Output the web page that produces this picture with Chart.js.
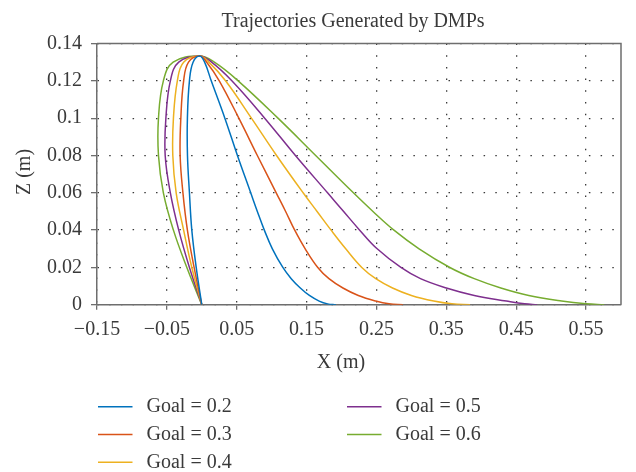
<!DOCTYPE html>
<html><head><meta charset="utf-8">
<script src="https://cdn.jsdelivr.net/npm/chart.js@4.4.1/dist/chart.umd.min.js"></script>
<style>html,body{margin:0;padding:0;background:#fff;}</style>
</head><body>
<canvas id="c" width="636" height="472"></canvas>
<script>
const chartTitle = 'Trajectories Generated by DMPs';
const xAxisTitle = 'X (m)';
const yAxisTitle = 'Z (m)';
const seriesLabels = ['Goal = 0.2', 'Goal = 0.3', 'Goal = 0.4', 'Goal = 0.5', 'Goal = 0.6'];
const seriesColors = ['#0072BD', '#D95319', '#EDB120', '#7E2F8E', '#77AC30'];

const xTickValues = [-0.15, -0.05, 0.05, 0.15, 0.25, 0.35, 0.45, 0.55];
const xTickLabels = ['\u22120.15', '\u22120.05', '0.05', '0.15', '0.25', '0.35', '0.45', '0.55'];
const yTickValues = [0, 0.02, 0.04, 0.06, 0.08, 0.10, 0.12, 0.14];
const yTickLabels = ['0', '0.02', '0.04', '0.06', '0.08', '0.1', '0.12', '0.14'];

// Z values of the sampled points (up the left side, over the top, down to the goal)
const pathZ = [0, 0.02, 0.04, 0.06, 0.08, 0.10, 0.12, 0.13, 0.1333, 0.13, 0.12, 0.10, 0.08, 0.06, 0.05, 0.04, 0.03, 0.02, 0.014, 0.009, 0.005, 0.002, 0.0005, 0];

// X values of each trajectory at those points
const goal02X = [0, -0.008, -0.0143, -0.0177, -0.0205, -0.0206, -0.0177, -0.0125, -0.003, 0.004, 0.0135, 0.033, 0.051, 0.070, 0.0795, 0.0895, 0.101, 0.116, 0.128, 0.141, 0.154, 0.168, 0.180, 0.192];
const goal03X = [0, -0.011, -0.0206, -0.027, -0.031, -0.030, -0.026, -0.019, -0.003, 0.007, 0.025, 0.053, 0.0795, 0.1065, 0.120, 0.133, 0.148, 0.166, 0.182, 0.202, 0.224, 0.249, 0.268, 0.288];
const goal04X = [0, -0.0143, -0.026, -0.0367, -0.0415, -0.0406, -0.035, -0.026, -0.003, 0.010, 0.034, 0.071, 0.107, 0.145, 0.165, 0.185, 0.206, 0.229, 0.249, 0.273, 0.300, 0.332, 0.358, 0.384];
const goal05X = [0, -0.0177, -0.033, -0.045, -0.0524, -0.0514, -0.045, -0.033, -0.003, 0.014, 0.043, 0.090, 0.134, 0.180, 0.203, 0.226, 0.251, 0.285, 0.313, 0.350, 0.390, 0.436, 0.462, 0.480];
const goal06X = [0, -0.0214, -0.0406, -0.055, -0.062, -0.062, -0.055, -0.041, -0.003, 0.018, 0.052, 0.109, 0.163, 0.217, 0.245, 0.275, 0.311, 0.355, 0.390, 0.428, 0.468, 0.515, 0.550, 0.576];

const seriesX = [goal02X, goal03X, goal04X, goal05X, goal06X];

const FONT = '"Liberation Serif", "Times New Roman", serif';
const TEXT_COLOR = '#3a3a3a';
const AXIS_COLOR = '#6e6e6e';

const datasets = seriesLabels.map((label, i) => ({
  label: label,
  data: seriesX[i].map((x, j) => ({ x: x, y: pathZ[j] })),
  borderColor: seriesColors[i],
  backgroundColor: seriesColors[i],
  borderWidth: 1.5,
  showLine: true,
  pointRadius: 0,
  tension: 0.4,
  fill: false
}));

const decorPlugin = {
  id: 'decor',
  afterDraw(chart) {
    const ctx = chart.ctx;
    const a = chart.chartArea;
    ctx.save();
    ctx.strokeStyle = AXIS_COLOR;
    ctx.lineWidth = 1.5;
    ctx.beginPath();
    ctx.moveTo(a.left, a.top);
    ctx.lineTo(a.right, a.top);
    ctx.lineTo(a.right, a.bottom);
    ctx.stroke();

    ctx.fillStyle = TEXT_COLOR;
    ctx.font = '20px ' + FONT;
    ctx.textAlign = 'center';
    ctx.textBaseline = 'alphabetic';
    ctx.fillText(chartTitle, 353, 27);
    ctx.fillText(xAxisTitle, 341, 368);
    ctx.save();
    ctx.translate(29.5, 172);
    ctx.rotate(-Math.PI / 2);
    ctx.fillText(yAxisTitle, 0, 0);
    ctx.restore();

    const colX = [98, 347];
    chart.data.datasets.forEach((ds, i) => {
      const col = Math.floor(i / 3), row = i % 3;
      const x0 = colX[col];
      const y = 406.7 + row * 27.8;
      ctx.strokeStyle = ds.borderColor;
      ctx.lineWidth = 1.5;
      ctx.beginPath();
      ctx.moveTo(x0, y);
      ctx.lineTo(x0 + 34.5, y);
      ctx.stroke();
      ctx.fillStyle = TEXT_COLOR;
      ctx.textAlign = 'left';
      ctx.textBaseline = 'middle';
      ctx.font = '20px ' + FONT;
      ctx.fillText(ds.label, x0 + 48.5, y);
    });
    ctx.restore();
  }
};

new Chart(document.getElementById('c'), {
  type: 'scatter',
  data: { datasets: datasets },
  plugins: [decorPlugin],
  options: {
    responsive: false,
    animation: false,
    devicePixelRatio: 1,
    layout: { padding: { top: 43.5, right: 15, left: 0, bottom: 0 } },
    plugins: { legend: { display: false }, title: { display: false }, tooltip: { enabled: false } },
    scales: {
      x: {
        type: 'linear',
        min: -0.15,
        max: 0.6,
        afterFit(scale) { scale.height = 167.2; },
        afterBuildTicks(scale) { scale.ticks = xTickValues.map(v => ({ value: v })); },
        ticks: {
          autoSkip: false,
          maxRotation: 0,
          padding: 8,
          color: TEXT_COLOR,
          font: { family: FONT, size: 20 },
          callback: (v, i) => xTickLabels[i]
        },
        grid: {
          color: '#3a3a3a',
          lineWidth: 1.3,
          tickLength: 5,
          tickColor: AXIS_COLOR,
          tickWidth: 1.3
        },
        border: { display: true, color: AXIS_COLOR, width: 1.5, dash: [1.5, 10.2] }
      },
      y: {
        type: 'linear',
        min: 0,
        max: 0.14,
        afterFit(scale) { scale.width = 97; },
        afterBuildTicks(scale) { scale.ticks = yTickValues.map(v => ({ value: v })); },
        ticks: {
          autoSkip: false,
          padding: 9,
          color: TEXT_COLOR,
          font: { family: FONT, size: 20 },
          callback: (v, i) => yTickLabels[i]
        },
        grid: {
          color: '#3a3a3a',
          lineWidth: 1.3,
          tickLength: 6,
          tickColor: AXIS_COLOR,
          tickWidth: 1.3
        },
        border: { display: true, color: AXIS_COLOR, width: 1.5, dash: [1.5, 10.2] }
      }
    }
  }
});
</script>
</body></html>
